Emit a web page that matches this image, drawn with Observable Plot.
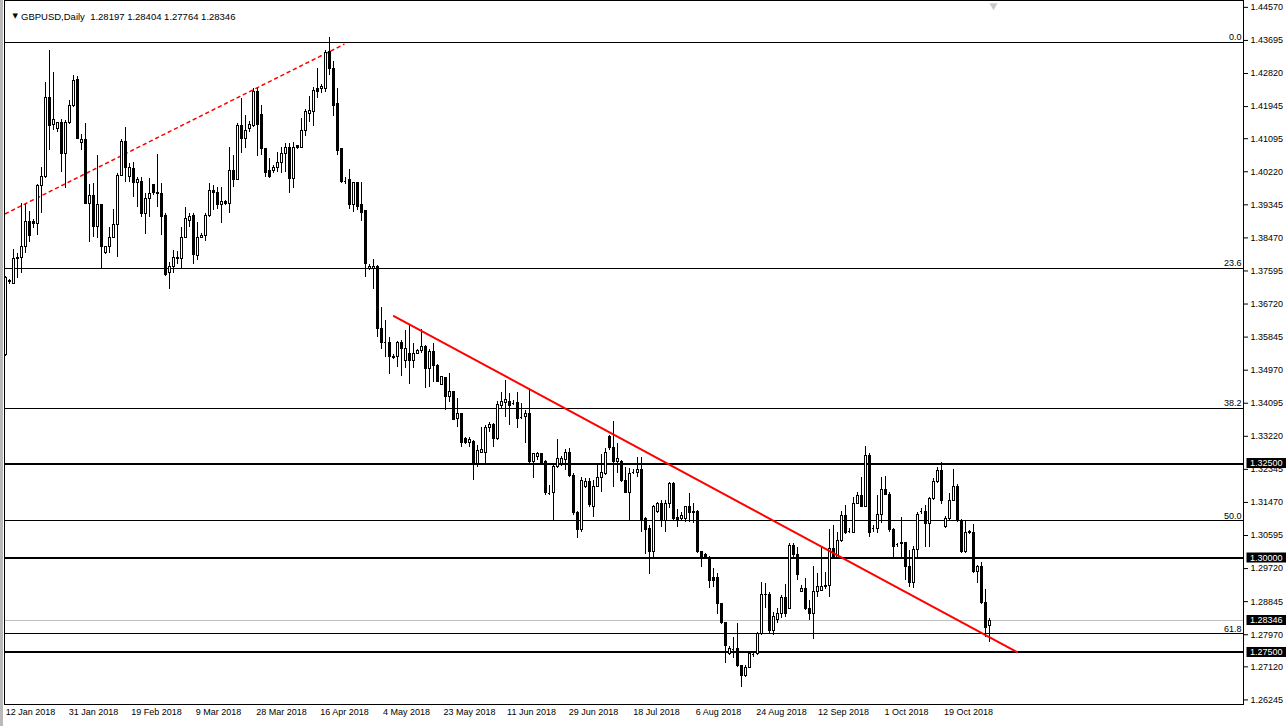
<!DOCTYPE html>
<html><head><meta charset="utf-8">
<script src="https://cdn.jsdelivr.net/npm/d3@7"></script>
<script src="https://cdn.jsdelivr.net/npm/@observablehq/plot@0.6"></script>
<style>
html,body{margin:0;padding:0;background:#fff;}
#wrap{position:relative;width:1288px;height:726px;overflow:hidden;}
#edge{position:absolute;left:0;top:0;width:3px;height:726px;background:#b9b9b9;}
</style></head>
<body><div id="wrap"><div id="chart"></div><div id="edge"></div></div>
<script>
// ---- data (GBPUSD daily, one bar per trading day incl. Sunday bars) ----
const symbol = "GBPUSD,Daily";
const open = [
1.3536,1.3729,1.3726,1.3795,1.3795,1.3822,1.3890,1.3890,1.3885,1.3983,
1.4007,1.4218,1.4147,1.4134,1.4150,1.4070,1.4150,1.4195,1.4264,1.4097,
1.4107,1.3938,1.3957,1.3875,1.3933,1.3808,1.3822,1.3848,1.3882,1.4012,
1.4102,1.4009,1.4028,1.3991,1.3996,1.3909,1.3949,1.3986,1.3967,1.3962,
1.3904,1.3753,1.3771,1.3795,1.3792,1.3848,1.3893,1.3904,1.3800,1.3848,
1.3851,1.3904,1.3970,1.3967,1.3935,1.3941,1.3938,1.4023,1.4001,1.4142,
1.4110,1.4134,1.4144,1.4234,1.4173,1.4081,1.4023,1.4023,1.4033,1.4044,
1.4068,1.4086,1.4004,1.4089,1.4086,1.4131,1.4176,1.4181,1.4240,1.4240,
1.4240,1.4338,1.4295,1.4200,1.4081,1.3996,1.3999,1.3933,1.3991,1.3933,
1.3917,1.3766,1.3766,1.3771,1.3607,1.3570,1.3570,1.3533,1.3531,1.3568,
1.3520,1.3541,1.3520,1.3541,1.3549,1.3557,1.3499,1.3544,1.3509,1.3459,
1.3475,1.3427,1.3438,1.3369,1.3380,1.3314,1.3303,1.3308,1.3250,1.3279,
1.3279,1.3343,1.3351,1.3314,1.3401,1.3411,1.3414,1.3409,1.3411,1.3372,
1.3372,1.3380,1.3253,1.3266,1.3274,1.3253,1.3171,1.3171,1.3240,1.3250,
1.3258,1.3277,1.3218,1.3118,1.3073,1.3187,1.3202,1.3136,1.3189,1.3213,
1.3221,1.3319,1.3292,1.3253,1.3253,1.3205,1.3173,1.3226,1.3226,1.3234,
1.3104,1.3078,1.3017,1.3123,1.3144,1.3099,1.3144,1.3197,1.3107,1.3104,
1.3104,1.3134,1.3118,1.3123,1.3015,1.3009,1.3001,1.2946,1.2946,1.2877,
1.2827,1.2747,1.2758,1.2758,1.2713,1.2689,1.2710,1.2745,1.2745,1.2800,
1.2901,1.2903,1.2806,1.2835,1.2853,1.2895,1.2866,1.3033,1.3009,1.2911,
1.2919,1.2866,1.2853,1.2909,1.2914,1.2922,1.2925,1.3025,1.3001,1.3044,
1.3110,1.3070,1.3067,1.3144,1.3165,1.3136,1.3269,1.3078,1.3078,1.3115,
1.3179,1.3168,1.3075,1.3036,1.3036,1.3041,1.2977,1.2935,1.3020,1.3123,
1.3123,1.3091,1.3155,1.3202,1.3231,1.3081,1.3102,1.3152,1.3187,1.3099,
1.3015,1.3070,1.3065,1.2962,1.2977,1.2880,1.28197];
const high = [
1.3745,1.3737,1.3816,1.3806,1.3938,1.3935,1.3917,1.3896,1.3988,1.4033,
1.4258,1.4343,1.4285,1.4152,1.4160,1.4158,1.4211,1.4277,1.4274,1.4121,
1.4150,1.3988,1.3991,1.4065,1.3935,1.3824,1.3875,1.3922,1.4017,1.4107,
1.4139,1.4044,1.4047,1.4007,1.4007,1.3965,1.4004,1.3986,1.4068,1.3991,
1.3912,1.3782,1.3814,1.3811,1.3875,1.3928,1.3912,1.3912,1.3888,1.3859,
1.3912,1.3991,1.3986,1.3980,1.3980,1.3946,1.4086,1.4065,1.4150,1.4216,
1.4171,1.4155,1.4242,1.4242,1.4197,1.4084,1.4057,1.4039,1.4073,1.4086,
1.4097,1.4097,1.4099,1.4091,1.4163,1.4187,1.4221,1.4245,1.4295,1.4253,
1.4343,1.4377,1.4314,1.4242,1.4084,1.4007,1.4028,1.3994,1.3994,1.3994,
1.3920,1.3777,1.3790,1.3774,1.3663,1.3628,1.3584,1.3538,1.3573,1.3576,
1.3602,1.3615,1.3568,1.3552,1.3605,1.3562,1.3552,1.3568,1.3512,1.3480,
1.3478,1.3488,1.3441,1.3422,1.3382,1.3319,1.3319,1.3311,1.3298,1.3345,
1.3351,1.3358,1.3356,1.3414,1.3438,1.3470,1.3435,1.3417,1.3438,1.3409,
1.3390,1.3448,1.3277,1.3279,1.3277,1.3258,1.3192,1.3250,1.3314,1.3269,
1.3287,1.3290,1.3224,1.3123,1.3213,1.3210,1.3210,1.3205,1.3250,1.3274,
1.3290,1.3324,1.3361,1.3303,1.3258,1.3240,1.3237,1.3234,1.3266,1.3266,
1.3107,1.3086,1.3139,1.3147,1.3152,1.3152,1.3200,1.3200,1.3128,1.3120,
1.3136,1.3171,1.3144,1.3126,1.3017,1.3012,1.3004,1.2972,1.2959,1.2880,
1.2829,1.2766,1.2790,1.2827,1.2716,1.2716,1.2750,1.2750,1.2803,1.2935,
1.2933,1.2909,1.2856,1.2866,1.2901,1.2930,1.3038,1.3038,1.3028,1.2927,
1.2946,1.2888,1.2977,1.2959,1.3028,1.2962,1.3075,1.3086,1.3067,1.3123,
1.3139,1.3078,1.3160,1.3173,1.3213,1.3295,1.3277,1.3086,1.3165,1.3213,
1.3216,1.3173,1.3078,1.3038,1.3107,1.3041,1.3020,1.3030,1.3120,1.3131,
1.3139,1.3160,1.3210,1.3240,1.3253,1.3110,1.3171,1.3234,1.3194,1.3102,
1.3099,1.3073,1.3089,1.2980,1.2988,1.2917,1.28404];
const low = [
1.3533,1.3724,1.3726,1.3740,1.3753,1.3806,1.3835,1.3872,1.3853,1.3912,
1.4004,1.4078,1.4131,1.4126,1.4020,1.3978,1.4147,1.4192,1.4107,1.4078,
1.3938,1.3835,1.3848,1.3845,1.3763,1.3803,1.3806,1.3845,1.3795,1.4009,
1.3994,1.3994,1.3954,1.3928,1.3901,1.3856,1.3901,1.3959,1.3928,1.3853,
1.3745,1.3710,1.3753,1.3777,1.3766,1.3845,1.3875,1.3777,1.3787,1.3845,
1.3837,1.3901,1.3920,1.3922,1.3885,1.3933,1.3912,1.3980,1.3999,1.4070,
1.4084,1.4126,1.4139,1.4062,1.4065,1.4007,1.4004,1.4017,1.4020,1.4017,
1.4020,1.3965,1.3978,1.4081,1.4084,1.4115,1.4152,1.4142,1.4216,1.4229,
1.4232,1.4277,1.4168,1.4065,1.3991,1.3988,1.3922,1.3914,1.3920,1.3890,
1.3742,1.3761,1.3710,1.3584,1.3552,1.3531,1.3485,1.3525,1.3504,1.3480,
1.3501,1.3459,1.3501,1.3538,1.3541,1.3448,1.3451,1.3464,1.3464,1.3456,
1.3390,1.3411,1.3364,1.3345,1.3292,1.3300,1.3292,1.3205,1.3240,1.3277,
1.3250,1.3332,1.3292,1.3311,1.3396,1.3372,1.3351,1.3404,1.3343,1.3366,
1.3303,1.3250,1.3210,1.3258,1.3245,1.3165,1.3165,1.3099,1.3237,1.3242,
1.3232,1.3213,1.3112,1.3052,1.3067,1.3184,1.3134,1.3107,1.3187,1.3173,
1.3218,1.3284,1.3187,1.3224,1.3200,1.3171,1.3099,1.3221,1.3213,1.3067,
1.3009,1.2956,1.2996,1.3118,1.3081,1.3067,1.3131,1.3097,1.3081,1.3097,
1.3094,1.3094,1.3091,1.3012,1.2975,1.2999,1.2919,1.2922,1.2850,1.2824,
1.2721,1.2742,1.2734,1.2710,1.2657,1.2684,1.2708,1.2737,1.2742,1.2795,
1.2866,1.2800,1.2795,1.2827,1.2840,1.2843,1.2864,1.3001,1.2940,1.2909,
1.2861,1.2835,1.2784,1.2895,1.2911,1.2917,1.2895,1.2999,1.2999,1.3041,
1.3062,1.3065,1.3065,1.3142,1.3136,1.3134,1.3054,1.3067,1.3065,1.3091,
1.3165,1.3067,1.3001,1.3028,1.3001,1.2940,1.2922,1.2919,1.3001,1.3115,
1.3028,1.3028,1.3152,1.3197,1.3142,1.3078,1.3099,1.3150,1.3094,1.3012,
1.3012,1.3062,1.2959,1.2933,1.2877,1.2790,1.27764];
const close = [
1.3742,1.3732,1.3792,1.3790,1.3822,1.3890,1.3851,1.3885,1.3983,1.4009,
1.4218,1.4144,1.4158,1.4150,1.4068,1.4152,1.4197,1.4261,1.4110,1.4107,
1.3938,1.3957,1.3875,1.3933,1.3822,1.3822,1.3848,1.3882,1.4012,1.4102,
1.4031,1.4031,1.3991,1.3999,1.3909,1.3949,1.3962,1.3965,1.3962,1.3901,
1.3750,1.3771,1.3795,1.3790,1.3848,1.3898,1.3901,1.3803,1.3848,1.3853,
1.3904,1.3970,1.3965,1.3935,1.3941,1.3938,1.4023,1.4001,1.4142,1.4110,
1.4131,1.4147,1.4234,1.4147,1.4081,1.4020,1.4009,1.4033,1.4044,1.4068,
1.4086,1.4004,1.4086,1.4086,1.4131,1.4179,1.4184,1.4237,1.4234,1.4245,
1.4335,1.4293,1.4197,1.4078,1.3994,1.3996,1.3933,1.3991,1.3930,1.3914,
1.3777,1.3771,1.3771,1.3607,1.3568,1.3570,1.3531,1.3528,1.3568,1.3552,
1.3552,1.3520,1.3541,1.3549,1.3557,1.3499,1.3544,1.3509,1.3467,1.3478,
1.3427,1.3438,1.3366,1.3380,1.3303,1.3303,1.3311,1.3250,1.3282,1.3287,
1.3343,1.3351,1.3314,1.3404,1.3414,1.3417,1.3401,1.3409,1.3369,1.3372,
1.3380,1.3253,1.3274,1.3274,1.3250,1.3171,1.3171,1.3242,1.3263,1.3261,
1.3277,1.3218,1.3118,1.3073,1.3205,1.3202,1.3139,1.3189,1.3213,1.3224,
1.3279,1.3290,1.3253,1.3263,1.3205,1.3173,1.3221,1.3226,1.3234,1.3099,
1.3073,1.3017,1.3134,1.3144,1.3099,1.3144,1.3197,1.3104,1.3097,1.3110,
1.3134,1.3118,1.3123,1.3015,1.3001,1.3001,1.2940,1.2940,1.2877,1.2827,
1.2766,1.2758,1.2758,1.2713,1.2689,1.2710,1.2745,1.2745,1.2800,1.2903,
1.2903,1.2806,1.2845,1.2853,1.2895,1.2853,1.3033,1.3007,1.2954,1.2919,
1.2866,1.2853,1.2911,1.2922,1.2922,1.2927,1.3025,1.3001,1.3044,1.3110,
1.3065,1.3070,1.3144,1.3165,1.3136,1.3269,1.3067,1.3078,1.3115,1.3179,
1.3168,1.3073,1.3028,1.3036,1.3041,1.2977,1.2935,1.3020,1.3115,1.3123,
1.3091,1.3155,1.3202,1.3231,1.3150,1.3102,1.3152,1.3187,1.3097,1.3015,
1.3067,1.3065,1.2962,1.2977,1.2880,1.2816,1.28346];

// date axis labels and the bar index they sit on
const dateTicks = ["12 Jan 2018","31 Jan 2018","19 Feb 2018","9 Mar 2018","28 Mar 2018","16 Apr 2018",
  "4 May 2018","23 May 2018","11 Jun 2018","29 Jun 2018","18 Jul 2018","6 Aug 2018","24 Aug 2018",
  "12 Sep 2018","1 Oct 2018","19 Oct 2018"];
const dateTickPos = [6.25,22,37.75,53.25,69,84.75,100.25,116,131.5,147,162.75,178.25,194,209.5,225.25,240.75];

// price axis labels
const priceTicks = [1.44570,1.43695,1.42820,1.41945,1.41095,1.40220,1.39345,1.38470,1.37595,1.36720,
  1.35845,1.34970,1.34095,1.33220,1.32345,1.31470,1.30595,1.29720,1.28845,1.27970,1.27120,1.26245];

// Fibonacci retracement
const fibHigh = 1.4364, fibLow = 1.1832;
const fibLevels = [0.0, 23.6, 38.2, 50.0, 61.8];
// horizontal support / resistance levels
const keyLevels = [1.3250, 1.3000, 1.2750];
const bidPrice = close[close.length - 1];
// trendlines (bar index, price)
const dashIdx = [0, 84.6], dashPrice = [1.3911, 1.4359];
const trendIdx = [97.1, 252.9], trendPrice = [1.3640, 1.2751];

// ---- build ----
const n = open.length;
const candles = open.map((o, i) => ({i, o, h: high[i], l: low[i], c: close[i]}));
const fibPrice = d => fibHigh - (fibHigh - fibLow) * d / 100;
const dashTrend = dashIdx.map((i, k) => ({i, p: dashPrice[k]}));
const solidTrend = trendIdx.map((i, k) => ({i, p: trendPrice[k]}));
const fmt5 = d3.format(".5f");
const X_MAX = 309.5;
const boxLevels = [...keyLevels, bidPrice];
const header = `${symbol}\u00a0 ${fmt5(open[n-1])} ${fmt5(high[n-1])} ${fmt5(low[n-1])} ${fmt5(close[n-1])}`;
const FONT = "'Liberation Sans', Arial, sans-serif";
const CRISP = "crispEdges";

const chart = Plot.plot({
  width: 1288, height: 726,
  marginLeft: 4, marginRight: 45, marginTop: 0, marginBottom: 22,
  x: {domain: [-0.25, X_MAX], label: null},
  y: {domain: [1.261237, 1.447515], label: null},
  style: {background: "#fff", color: "#000", fontFamily: FONT, fontSize: "9px", overflow: "visible"},
  marks: [
    Plot.ruleY([bidPrice], {stroke: "#c0c0c0", shapeRendering: CRISP}),
    Plot.ruleY(fibLevels, {y: fibPrice, stroke: "#000", shapeRendering: CRISP}),
    Plot.ruleY(keyLevels, {stroke: "#000", strokeWidth: 2, shapeRendering: CRISP}),
    Plot.line(dashTrend, {x: "i", y: "p", stroke: "#ff0000", strokeDasharray: "3,4"}),
    Plot.ruleX(candles, {x: "i", y1: "l", y2: "h", stroke: "#000", shapeRendering: CRISP}),
    Plot.rect(candles.filter(d => d.o !== d.c), {
      x1: d => d.i - 0.25, x2: d => d.i + 0.25, y1: "o", y2: "c",
      fill: d => d.c > d.o ? "#fff" : "#000", stroke: "#000", shapeRendering: CRISP}),
    Plot.ruleY(candles.filter(d => d.o === d.c), {y: "o", x1: d => d.i - 0.25, x2: d => d.i + 0.25, stroke: "#000", shapeRendering: CRISP}),
    Plot.line(solidTrend, {x: "i", y: "p", stroke: "#ff0000", strokeWidth: 2}),
    Plot.text(fibLevels, {x: () => X_MAX, y: fibPrice, text: d => d.toFixed(1), textAnchor: "end", dx: -2, dy: -5, fontSize: 9}),
    Plot.frame({stroke: "#000", shapeRendering: CRISP}),
    Plot.axisY(priceTicks, {anchor: "right", tickSize: 4, tickPadding: 3, tickFormat: fmt5, fontSize: 9, label: null}),
    Plot.axisX(dateTickPos, {anchor: "bottom", tickSize: 0, tickPadding: 4, fontSize: 9, label: null,
      tickFormat: d => dateTicks[dateTickPos.indexOf(d)]}),
    Plot.rect(boxLevels, {x1: () => X_MAX, x2: () => X_MAX, y1: d => d, y2: d => d,
      insetLeft: 3.5, insetRight: -43, insetTop: -5, insetBottom: -5, fill: "#000"}),
    Plot.text(boxLevels, {x: () => X_MAX, y: d => d, text: fmt5, textAnchor: "start", dx: 6.5, fill: "#fff", fontSize: 9}),
    Plot.text([header], {frameAnchor: "top-left", text: d => d, textAnchor: "start", dx: 16.5, dy: 13, fontSize: 9.5}),
    Plot.text(["\u25BC"], {frameAnchor: "top-left", text: d => d, dx: 8, dy: 13, fontSize: 7, fontFamily: "DejaVu Sans"}),
    Plot.dot([0], {x: () => 247, y: () => 1.44619, symbol: "triangle", rotate: 180, r: 3, fill: "#c8c8c8", stroke: "none"})
  ]
});
document.getElementById("chart").appendChild(chart);
</script></body></html>
